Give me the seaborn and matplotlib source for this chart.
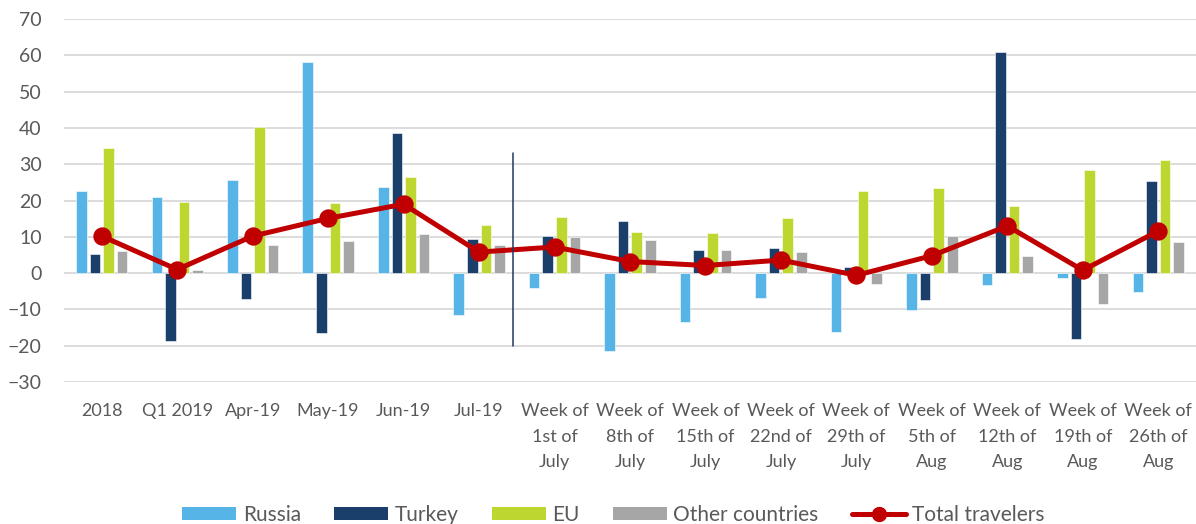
import matplotlib
matplotlib.use("Agg")
import matplotlib.pyplot as plt
from matplotlib.patches import Patch
from matplotlib.lines import Line2D
import seaborn as sns
import pandas as pd

# ---- data ----
categories = [
    "2018", "Q1 2019", "Apr-19", "May-19", "Jun-19", "Jul-19",
    "Week of\n1st of\nJuly", "Week of\n8th of\nJuly", "Week of\n15th of\nJuly",
    "Week of\n22nd of\nJuly", "Week of\n29th of\nJuly", "Week of\n5th of\nAug",
    "Week of\n12th of\nAug", "Week of\n19th of\nAug", "Week of\n26th of\nAug",
]
russia = [22.5, 20.9, 25.6, 58.3, 23.7, -11.5, -4.1, -21.4, -13.5, -6.8, -16.2, -10.2, -3.3, -1.3, -5.3]
turkey = [5.2, -18.6, -7.0, -16.4, 38.5, 9.4, 10.2, 14.5, 6.5, 6.9, 1.6, -7.3, 61.0, -18.2, 25.4]
eu = [34.5, 19.6, 40.2, 19.4, 26.5, 13.2, 15.6, 11.4, 11.1, 15.2, 22.6, 23.5, 18.4, 28.4, 31.1]
other = [6.1, 0.9, 7.7, 8.8, 10.8, 7.7, 9.9, 9.0, 6.3, 5.7, -3.1, 10.2, 4.7, -8.6, 8.5]
total = [10.2, 1.0, 10.2, 15.1, 19.0, 5.8, 7.2, 3.2, 2.1, 3.6, -0.6, 4.8, 13.0, 0.8, 11.6]

series_names = ["Russia", "Turkey", "EU", "Other countries"]
series_colors = ["#56B4E6", "#1B3F6B", "#BED630", "#A6A6A6"]
total_color = "#C00000"
grid_color = "#D9D9D9"
text_color = "#595959"

# separator between monthly and weekly data
divider_x = 5.45
divider_span = (-20, 33)

long_df = pd.DataFrame({
    "category": categories * 4,
    "series": sum([[s] * len(categories) for s in series_names], []),
    "value": russia + turkey + eu + other,
})

sns.set_theme(style="white")
plt.rcParams["font.family"] = ["Lato", "DejaVu Sans"]

fig = plt.figure(figsize=(11.96, 5.24), dpi=100)
ax = fig.add_axes([0.0535, 0.271, 0.9465, 0.6925])

ax.set_axisbelow(True)
ax.grid(axis="y", color=grid_color, linewidth=1.3)
ax.grid(axis="x", visible=False)

sns.barplot(
    data=long_df, x="category", y="value", hue="series",
    order=categories, hue_order=series_names, palette=series_colors,
    width=0.72, gap=0.22, saturation=1, errorbar=None,
    edgecolor="white", linewidth=0.4, legend=False, ax=ax,
)

sns.pointplot(
    x=categories, y=total, order=categories, color=total_color,
    markers="o", markersize=10.5, linewidth=3.6, errorbar=None, ax=ax,
)

ax.plot([divider_x, divider_x], divider_span, color="#1F3864", linewidth=1.1)

ax.set_xlim(-0.5, len(categories) - 0.5)
ax.set_ylim(-30, 70)
ax.set_yticks(range(-30, 71, 10))
ax.set_xlabel("")
ax.set_ylabel("")
for side in ["top", "right", "left", "bottom"]:
    ax.spines[side].set_visible(False)

ax.tick_params(axis="y", length=0, pad=16, labelsize=14, labelcolor=text_color)
ax.tick_params(axis="x", length=0, pad=15, labelsize=13, labelcolor=text_color)
for lbl in ax.get_xticklabels():
    lbl.set_linespacing(1.75)
    lbl.set_verticalalignment("top")

handles = [Patch(facecolor=c, edgecolor="none") for c in series_colors]
handles.append(Line2D([], [], color=total_color, linewidth=3.6, marker="o", markersize=10))
fig.legend(
    handles, series_names + ["Total travelers"],
    loc="center", bbox_to_anchor=(0.513, 0.018), ncol=5, frameon=False,
    fontsize=15, labelcolor=text_color, handlelength=2.6, handleheight=0.6,
    handletextpad=0.3, columnspacing=1.6,
)

fig.savefig("out.png", dpi=100, facecolor="white")
